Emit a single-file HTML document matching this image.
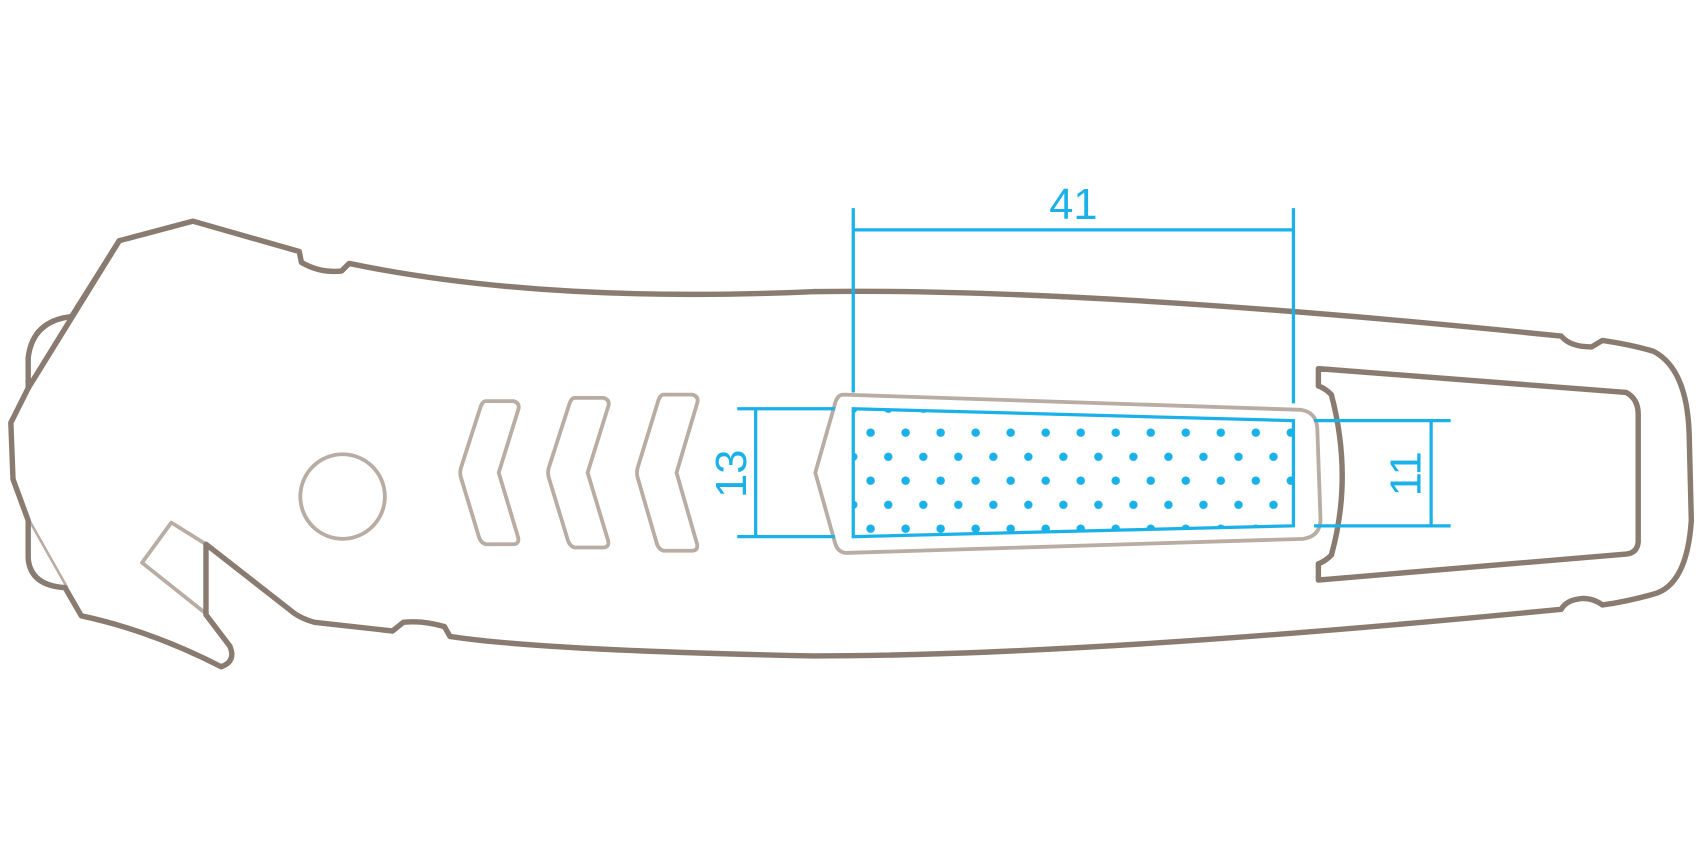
<!DOCTYPE html>
<html><head><meta charset="utf-8"><style>
html,body{margin:0;padding:0;background:#fff;}
svg{display:block;}
</style></head><body>
<svg width="1700" height="850" viewBox="0 0 1568 784" xmlns="http://www.w3.org/2000/svg">
<defs>
<pattern id="dots" x="787" y="377" width="32.3" height="44.3" patternUnits="userSpaceOnUse">
<circle cx="16" cy="22" r="3.9" fill="#1ab0e8"/>
<circle cx="0" cy="0" r="3.9" fill="#1ab0e8"/>
<circle cx="32.3" cy="0" r="3.9" fill="#1ab0e8"/>
<circle cx="0" cy="44.3" r="3.9" fill="#1ab0e8"/>
<circle cx="32.3" cy="44.3" r="3.9" fill="#1ab0e8"/>
</pattern>
</defs>
<g fill="none" stroke="#b8aca3" stroke-width="3.5" stroke-linejoin="round">
<line x1="66" y1="292" x2="27" y2="358" stroke-width="2.4"/>
<line x1="27" y1="480" x2="62" y2="542" stroke-width="2.4"/>
<polygon points="190,502 158,482 131,519 190,566"/>
<circle cx="316" cy="458" r="39"/>
<path d="M448,370 L474,370 Q480,372 478,378 L460,436 L478,496 Q479,502 473,502 L448,502 Q444,501 442,496 L425,440 Q424,436 425,432 L443,376 Q445,370 448,370 Z"/>
<path d="M530,367 L557,367 Q563,369 561,375 L542,436 L561,499 Q562,505 556,505 L530,505 Q526,504 524,499 L506,440 Q505,436 506,432 L525,373 Q527,367 530,367 Z"/>
<path d="M612,364 L639,364 Q645,366 643,372 L624,436 L643,502 Q644,508 638,508 L612,508 Q608,507 606,502 L588,440 Q587,436 588,432 L607,370 Q609,364 612,364 Z"/>
<path d="M778,364 L1200,378 Q1214,380 1215,395 L1218,480 Q1217,495 1202,497 L780,510 Q772,509 770,500 L752,436 L770,373 Q772,364 778,364 Z"/>
</g>
<g fill="none" stroke="#8a7b70" stroke-width="5" stroke-linejoin="round" stroke-linecap="round">
<path d="M110,222 L178,204 L276,232 L278,242 Q295,252 315,250 L322,243 Q500,280 750,269 Q1000,265 1440,310 Q1448,320 1468,320 L1478,314 Q1505,318 1525,324 Q1556,340 1558,400 L1560,480 Q1556,540 1525,548 Q1500,555 1478,558 Q1470,552 1460,552 Q1445,553 1440,562 Q1000,605 750,605 Q500,600 415,587 L410,578 Q390,572 372,574 L362,582 L290,574 Q276,570 268,563 L190,502 L190,567 L212,596 Q218,610 204,615 Q140,582 75,568 L60,542 Q28,540 26,515 L26,480 L12,442 L10,390 L26,358 L26,330 Q30,296 66,292 Z"/>
<path d="M110,222 L26,358"/>
<path d="M1216,340 L1500,362 Q1511,368 1511,382 L1511,500 Q1510,510 1500,511 L1216,535 L1216,520 Q1222,518 1228,512 Q1248,440 1228,364 Q1222,358 1216,356 Z"/>
</g>
<g fill="none" stroke="#1ab0e8" stroke-width="3">
<polygon points="787,377 1193,388 1193,485 787,495" fill="url(#dots)"/>
<line x1="787" y1="192" x2="787" y2="362"/>
<line x1="1193" y1="192" x2="1193" y2="372"/>
<line x1="787" y1="212" x2="1193" y2="212"/>
<line x1="680" y1="377" x2="770" y2="377"/>
<line x1="680" y1="495" x2="770" y2="495"/>
<line x1="697" y1="377" x2="697" y2="495"/>
<line x1="1212" y1="388" x2="1338" y2="388"/>
<line x1="1212" y1="485" x2="1338" y2="485"/>
<line x1="1320" y1="388" x2="1320" y2="485"/>
</g>
<g fill="#1ab0e8" font-family="Liberation Sans, sans-serif" font-size="40" text-anchor="middle">
<text x="990" y="202">41</text>
<text transform="translate(688,437) rotate(-90)">13</text>
<text transform="translate(1310,437) rotate(-90)">11</text>
</g>
</svg>
</body></html>
